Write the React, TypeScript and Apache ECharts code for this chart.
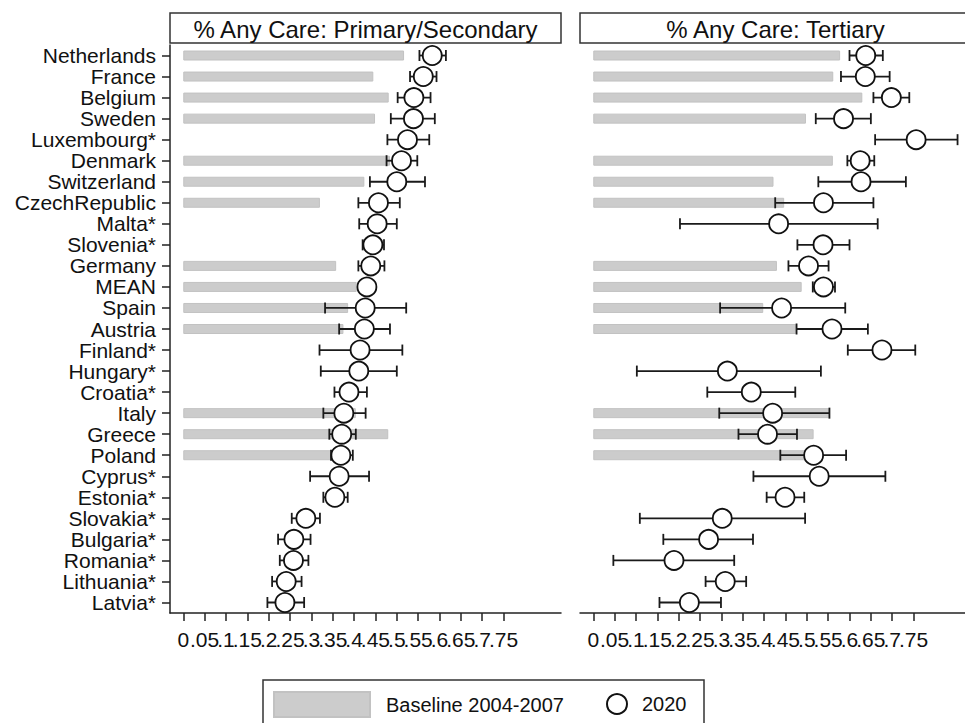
import React, { useEffect, useRef } from "react";
import * as echarts from "echarts";

const FONT = "'Liberation Sans', Arial, Helvetica, sans-serif";
const INK = "#111111";

const countries = [
  "Netherlands", "France", "Belgium", "Sweden", "Luxembourg*", "Denmark", "Switzerland",
  "CzechRepublic", "Malta*", "Slovenia*", "Germany", "MEAN", "Spain", "Austria", "Finland*",
  "Hungary*", "Croatia*", "Italy", "Greece", "Poland", "Cyprus*", "Estonia*", "Slovakia*",
  "Bulgaria*", "Romania*", "Lithuania*", "Latvia*",
];

// Panel 1: Primary/Secondary
const primBaseline = [0.517, 0.445, 0.481, 0.449, null, 0.484, 0.424, 0.32, null, null, 0.358, 0.406, 0.386, 0.375, null, null, null, 0.404, 0.48, 0.351, null, null, null, null, null, null, null];
const prim2020 = [0.583, 0.562, 0.54, 0.539, 0.525, 0.511, 0.5, 0.457, 0.454, 0.444, 0.439, 0.43, 0.426, 0.424, 0.414, 0.411, 0.388, 0.376, 0.371, 0.369, 0.365, 0.355, 0.287, 0.259, 0.258, 0.241, 0.238];
const primLow = [0.553, 0.531, 0.502, 0.486, 0.478, 0.476, 0.437, 0.41, 0.412, 0.42, 0.41, 0.425, 0.332, 0.365, 0.319, 0.322, 0.354, 0.328, 0.342, 0.346, 0.297, 0.328, 0.254, 0.222, 0.226, 0.208, 0.197];
const primHigh = [0.615, 0.593, 0.579, 0.589, 0.576, 0.548, 0.566, 0.507, 0.5, 0.47, 0.471, 0.435, 0.522, 0.484, 0.513, 0.5, 0.43, 0.427, 0.404, 0.397, 0.435, 0.385, 0.32, 0.298, 0.293, 0.277, 0.283];

// Panel 2: Tertiary
const tertBaseline = [0.578, 0.562, 0.63, 0.498, null, 0.561, 0.422, 0.447, null, null, 0.43, 0.488, 0.398, 0.475, null, null, null, 0.553, 0.516, 0.504, null, null, null, null, null, null, null];
const tert2020 = [0.638, 0.637, 0.698, 0.586, 0.756, 0.625, 0.627, 0.539, 0.434, 0.538, 0.504, 0.539, 0.441, 0.559, 0.676, 0.314, 0.37, 0.42, 0.408, 0.516, 0.529, 0.449, 0.302, 0.27, 0.189, 0.309, 0.225];
const tertLow = [0.6, 0.58, 0.656, 0.521, 0.66, 0.595, 0.527, 0.426, 0.203, 0.478, 0.457, 0.514, 0.297, 0.476, 0.596, 0.102, 0.267, 0.295, 0.34, 0.438, 0.375, 0.406, 0.109, 0.164, 0.047, 0.263, 0.155];
const tertHigh = [0.678, 0.694, 0.74, 0.65, 0.853, 0.658, 0.732, 0.656, 0.666, 0.6, 0.551, 0.566, 0.59, 0.643, 0.754, 0.533, 0.473, 0.553, 0.477, 0.592, 0.684, 0.494, 0.496, 0.374, 0.33, 0.358, 0.299];

const xTicks = [0, 0.05, 0.1, 0.15, 0.2, 0.25, 0.3, 0.35, 0.4, 0.45, 0.5, 0.55, 0.6, 0.65, 0.7, 0.75];
const X_MIN = -0.0311;
const X_MAX = 0.8845;

const panelTitles = ["% Any Care: Primary/Secondary", "% Any Care: Tertiary"];
const legendNames = ["Baseline 2004-2007", "2020"];

const fmtTick = (v: number) => {
  if (v > 0.8) return "";
  if (Math.abs(v) < 1e-9) return "0";
  return (Math.round(v * 100) / 100).toString().replace(/^0\./, ".");
};

const axisLine = { show: true, onZero: false, lineStyle: { color: "#222", width: 1.5 } };

function buildPanel(i: number, base: (number | null)[], est: number[], lo: number[], hi: number[]) {
  const bar = {
    type: "bar",
    name: legendNames[0],
    xAxisIndex: i,
    yAxisIndex: i,
    barWidth: 10,
    z: 2,
    itemStyle: { color: "#cccccc", borderColor: "#c2c2c2", borderWidth: 1 },
    data: base.map((v) => (v === null ? "-" : v)),
  };
  const err = {
    type: "custom",
    name: "ci" + i,
    xAxisIndex: i,
    yAxisIndex: i,
    z: 3,
    encode: { x: [0, 1], y: 2 },
    data: lo.map((v, k) => [v, hi[k], k]),
    renderItem: (_p: any, api: any) => {
      const a = api.coord([api.value(0), api.value(2)]);
      const b = api.coord([api.value(1), api.value(2)]);
      const h = 5.5;
      const st = { stroke: "#1a1a1a", lineWidth: 1.8 };
      return {
        type: "group",
        children: [
          { type: "line", shape: { x1: a[0], y1: a[1], x2: b[0], y2: b[1] }, style: st },
          { type: "line", shape: { x1: a[0], y1: a[1] - h, x2: a[0], y2: a[1] + h }, style: st },
          { type: "line", shape: { x1: b[0], y1: b[1] - h, x2: b[0], y2: b[1] + h }, style: st },
        ],
      };
    },
  };
  const pts = {
    type: "scatter",
    name: legendNames[1],
    xAxisIndex: i,
    yAxisIndex: i,
    z: 4,
    symbol: "circle",
    symbolSize: 19,
    itemStyle: { color: "#ffffff", borderColor: "#111111", borderWidth: 1.8, opacity: 1 },
    data: est.map((v, k) => [v, k]),
  };
  return [bar, err, pts];
}

export default function App() {
  const ref = useRef<HTMLDivElement>(null);
  useEffect(() => {
    document.body.style.margin = "0";
    if (!ref.current) return;
    const chart = echarts.init(ref.current, undefined, { renderer: "svg" });
    const gridL = [170, 580];
    const gridW = 391;
    const option: any = {
      animation: false,
      textStyle: { fontFamily: FONT },
      grid: gridL.map((l) => ({ left: l, top: 45, width: gridW, height: 568, outerBoundsMode: "none" })),
      xAxis: [0, 1].map((i) => ({
        type: "value",
        gridIndex: i,
        min: X_MIN,
        max: X_MAX,
        axisLine: axisLine,
        axisTick: { show: true, customValues: xTicks, length: 8, lineStyle: { color: "#222", width: 1.5 } },
        axisLabel: {
          customValues: [...xTicks, X_MAX],
          formatter: fmtTick,
          fontSize: 21,
          color: INK,
          margin: 16,
          fontFamily: FONT,
          hideOverlap: false,
        },
        splitLine: { show: false },
      })),
      yAxis: [
        {
          type: "category",
          gridIndex: 0,
          data: countries,
          inverse: true,
          axisLine: axisLine,
          axisTick: { show: true, alignWithLabel: true, interval: 0, length: 8, lineStyle: { color: "#222", width: 1.5 } },
          axisLabel: { interval: 0, fontSize: 21, margin: 14, color: INK, fontFamily: FONT },
          splitLine: { show: false },
        },
        { type: "category", gridIndex: 1, data: countries, inverse: true, show: false },
      ],
      legend: [
        {
          data: [{ name: legendNames[0], icon: "rect" }],
          left: 273,
          top: 691,
          padding: 0,
          itemWidth: 96,
          itemHeight: 25,
          selectedMode: false,
          textStyle: { fontSize: 20, color: INK, fontFamily: FONT, padding: [0, 0, 0, 11] },
        },
        {
          data: [{ name: legendNames[1], icon: "circle" }],
          left: 606,
          top: 693,
          padding: 0,
          itemWidth: 20,
          itemHeight: 20,
          selectedMode: false,
          textStyle: { fontSize: 20, color: INK, fontFamily: FONT, padding: [0, 0, 0, 10] },
        },
      ],
      graphic: [
        ...gridL.map((l, i) => ({
          type: "group",
          children: [
            { type: "rect", shape: { x: l, y: 13, width: gridW, height: 30 }, style: { fill: "#fff", stroke: "#333", lineWidth: 1.5 } },
            {
              type: "text",
              x: l + gridW / 2,
              y: 29,
              style: { text: panelTitles[i], fontSize: 24, fontFamily: FONT, fill: INK, align: "center", verticalAlign: "middle" },
            },
          ],
        })),
        { type: "rect", z: -1, shape: { x: 263, y: 680, width: 441, height: 90 }, style: { fill: "none", stroke: "#333", lineWidth: 1.5 } },
      ],
      series: [
        ...buildPanel(0, primBaseline, prim2020, primLow, primHigh),
        ...buildPanel(1, tertBaseline, tert2020, tertLow, tertHigh),
      ],
    };
    chart.setOption(option);
    return () => chart.dispose();
  }, []);
  return <div ref={ref} style={{ position: "fixed", left: 0, top: 0, width: 965, height: 723, background: "#fff" }} />;
}
